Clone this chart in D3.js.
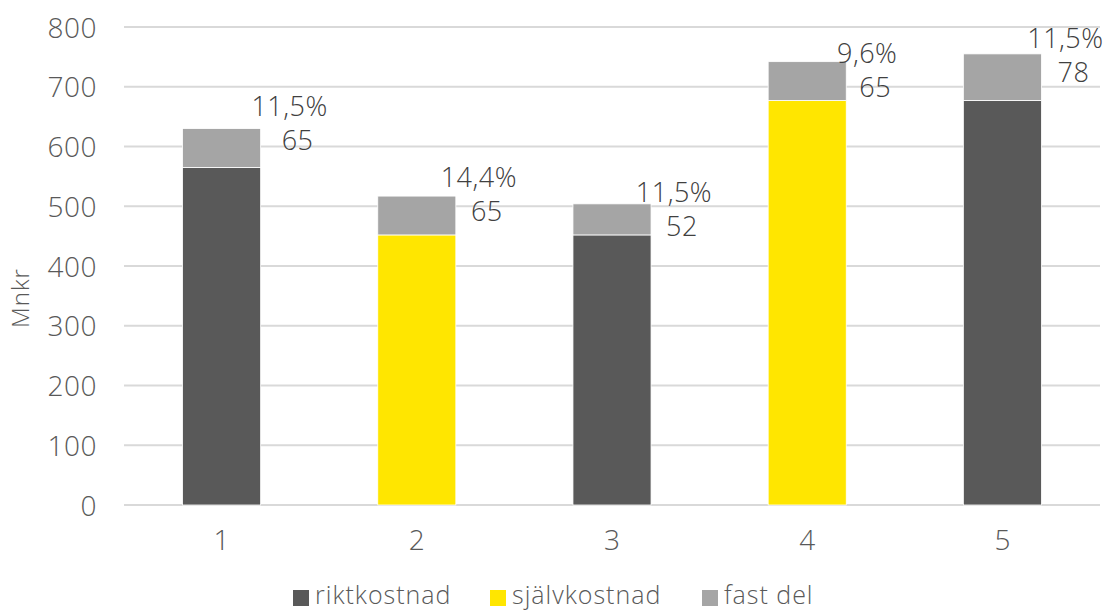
<!DOCTYPE html>
<html lang="sv">
<head>
  <meta charset="utf-8">
  <title>Mnkr</title>
  <script src="https://d3js.org/d3.v7.min.js"></script>
  <style>
    body { margin: 0; background: #fff; }
    svg { display: block; font-family: "Open Sans", Roboto, sans-serif; font-weight: 300; }
    .tick text { fill: #595959; }
  </style>
</head>
<body>
  <div id="chart"></div>
  <script>
    var w = 1107, h = 611;
    var font = "'Open Sans', Roboto, sans-serif";

    // data
    var categories = ["1", "2", "3", "4", "5"];
    var baseValues = [565, 452, 452, 677, 677];
    var baseType = ["riktkostnad", "självkostnad", "riktkostnad", "självkostnad", "riktkostnad"];
    var fixedValues = [65, 65, 52, 65, 78];
    var pctLabels = ["11,5%", "14,4%", "11,5%", "9,6%", "11,5%"];
    var yTicks = [0, 100, 200, 300, 400, 500, 600, 700, 800];
    var legendItems = ["riktkostnad", "självkostnad", "fast del"];

    var colors = { "riktkostnad": "#595959", "självkostnad": "#FFE600", "fast del": "#A5A5A5" };

    // the labels were dragged by hand in the original, so nudge them a bit
    var labelNudge = [[68, -13], [62, -9], [62, -2], [60, 1], [63, -6]];

    var svg = d3.select("#chart").append("svg")
      .attr("width", w).attr("height", h);

    var x = d3.scaleBand().domain(categories).range([124, 1100]).paddingInner(0.6).paddingOuter(0.3);
    var y = d3.scaleLinear().domain([0, 800]).range([505, 27]);

    // gridlines
    svg.append("g").selectAll("line")
      .data(yTicks)
      .enter().append("line")
      .attr("x1", 124).attr("x2", 1100)
      .attr("y1", function(d) { return y(d); })
      .attr("y2", function(d) { return y(d); })
      .attr("stroke", "#d9d9d9").attr("stroke-width", 2);

    // y axis
    var yAxis = svg.append("g")
      .attr("transform", "translate(101,0)")
      .call(d3.axisLeft(y).tickValues(yTicks).tickSize(0).tickPadding(4))
      .attr("font-family", font);
    yAxis.select(".domain").remove();
    yAxis.selectAll("text")
      .attr("font-size", 28).attr("letter-spacing", 0.5)
      .attr("dy", "0.36em");

    // x axis
    var xAxis = svg.append("g")
      .attr("transform", "translate(0,505)")
      .call(d3.axisBottom(x).tickSize(0).tickPadding(0))
      .attr("font-family", font);
    xAxis.select(".domain").remove();
    xAxis.selectAll("text")
      .attr("font-size", 28)
      .attr("dy", null).attr("y", 45);

    svg.append("text")
      .attr("transform", "translate(29,298) rotate(-90)")
      .attr("text-anchor", "middle")
      .attr("font-size", 24)
      .attr("letter-spacing", 1)
      .attr("fill", "#595959")
      .text("Mnkr");

    // bars
    var g = svg.append("g");
    categories.forEach(function(c, i) {
      var top = baseValues[i] + fixedValues[i];
      g.append("rect")
        .attr("x", x(c)).attr("width", x.bandwidth())
        .attr("y", y(baseValues[i]))
        .attr("height", y(0) - y(baseValues[i]))
        .attr("fill", colors[baseType[i]])
        .attr("stroke", "#fff").attr("stroke-width", 0.8);
      g.append("rect")
        .attr("x", x(c)).attr("width", x.bandwidth())
        .attr("y", y(top))
        .attr("height", y(baseValues[i]) - y(top))
        .attr("fill", colors["fast del"])
        .attr("stroke", "#fff").attr("stroke-width", 0.8);

      var lx = x(c) + x.bandwidth() / 2 + labelNudge[i][0];
      var ly = y(top) + labelNudge[i][1];
      g.append("text")
        .attr("x", lx).attr("y", ly)
        .attr("text-anchor", "middle")
        .attr("font-size", 27).attr("letter-spacing", 0.5).attr("fill", "#404040")
        .text(pctLabels[i]);
      g.append("text")
        .attr("x", lx + 8).attr("y", ly + 34)
        .attr("text-anchor", "middle")
        .attr("font-size", 27).attr("letter-spacing", 0.5).attr("fill", "#404040")
        .text(fixedValues[i]);
    });

    // legend
    var legendX = [293, 490, 702];
    var leg = svg.append("g");
    legendItems.forEach(function(d, i) {
      leg.append("rect")
        .attr("x", legendX[i]).attr("y", 590)
        .attr("width", 16).attr("height", 16)
        .attr("fill", colors[d]);
      leg.append("text")
        .attr("x", legendX[i] + 22).attr("y", 604)
        .attr("font-size", 25).attr("letter-spacing", 1)
        .attr("fill", "#595959")
        .text(d);
    });
  </script>
</body>
</html>
